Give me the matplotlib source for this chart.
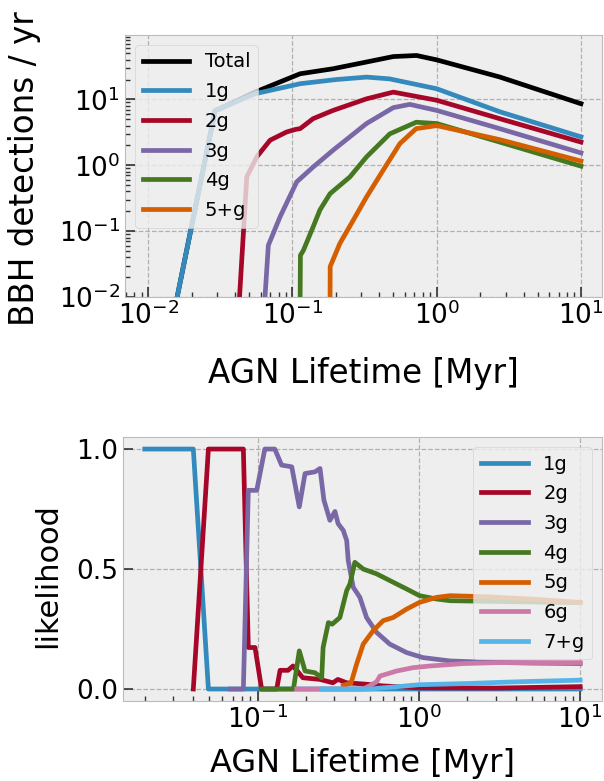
import numpy as np
import matplotlib
matplotlib.use("Agg")
import matplotlib.pyplot as plt

plt.style.use("bmh")
plt.rcParams["mathtext.fontset"] = "dejavusans"
plt.rcParams["grid.linewidth"] = 0.9
plt.rcParams["grid.color"] = "#b0b0b0"

# --- top panel: detections per year vs AGN lifetime ---
tot_x = [0.0150, 0.0291, 0.0313, 0.055, 0.113, 0.191, 0.325, 0.5, 0.724, 1.0, 2.73, 10.0]
tot_y = [0.0055, 6.8, 7.2, 12.9, 24.5, 29.2, 36.9, 44.7, 46.4, 39.8, 21.9, 8.6]

g1_x = [0.0150, 0.0291, 0.0313, 0.055, 0.113, 0.2, 0.326, 0.47, 1.0, 2.73, 10.0]
g1_y = [0.0055, 6.8, 7.2, 12.2, 17.3, 20.0, 21.8, 20.5, 14.5, 6.5, 2.7]

g2_x = [0.0425, 0.0482, 0.0565, 0.0699, 0.091, 0.105, 0.113, 0.139, 0.191, 0.326, 0.5, 1.0, 2.73, 10.0]
g2_y = [0.007, 0.665, 1.34, 2.4, 3.2, 3.5, 3.6, 5.1, 6.8, 10.2, 12.9, 9.7, 5.1, 2.25]

g3_x = [0.0638, 0.068, 0.082, 0.107, 0.139, 0.191, 0.326, 0.5, 0.65, 1.0, 2.73, 10.0]
g3_y = [0.007, 0.061, 0.165, 0.56, 0.94, 1.69, 4.3, 7.5, 8.4, 6.8, 3.6, 1.54]

g4_x = [0.1127, 0.1135, 0.119, 0.139, 0.155, 0.182, 0.25, 0.326, 0.473, 0.72, 1.0, 2.73, 10.0]
g4_y = [0.005, 0.043, 0.051, 0.116, 0.21, 0.37, 0.665, 1.34, 3.0, 4.5, 4.3, 2.25, 0.97]

g5_x = [0.182, 0.1825, 0.213, 0.264, 0.326, 0.425, 0.555, 0.72, 1.0, 2.73, 10.0]
g5_y = [0.005, 0.029, 0.065, 0.147, 0.33, 0.84, 2.13, 3.6, 4.0, 2.45, 1.16]

# --- bottom panel: likelihood of each generation ---
l1_x = [0.02, 0.040, 0.0496, 10.0]
l1_y = [1.0, 1.0, 0.0, 0.0]

l2_x = [0.040, 0.0496, 0.0817, 0.0877, 0.0965, 0.106, 0.1315, 0.138, 0.1545, 0.166, 0.175,
        0.191, 0.244, 0.293, 0.315, 0.357, 0.474, 0.6, 1.0, 3.0, 10.0]
l2_y = [0.0, 1.0, 1.0, 0.173, 0.173, 0.0, 0.0, 0.078, 0.078, 0.096, 0.078,
        0.047, 0.04, 0.026, 0.04, 0.026, 0.02, 0.013, 0.005, 0.004, 0.01]

l3_x = [0.068, 0.0817, 0.0877, 0.0989, 0.111, 0.128, 0.141, 0.163, 0.1815, 0.197, 0.227,
        0.244, 0.258, 0.281, 0.302, 0.316, 0.34, 0.357, 0.365, 0.392, 0.431, 0.474,
        0.547, 0.661, 0.839, 1.06, 1.56, 2.5, 5.0, 10.0]
l3_y = [0.0, 0.0, 0.828, 0.828, 1.0, 1.0, 0.933, 0.926, 0.759, 0.898, 0.905,
        0.919, 0.787, 0.703, 0.74, 0.689, 0.661, 0.619, 0.536, 0.424, 0.382, 0.298,
        0.236, 0.187, 0.152, 0.131, 0.117, 0.112, 0.108, 0.106]

l4_x = [0.106, 0.167, 0.1815, 0.197, 0.227, 0.25, 0.255, 0.275, 0.29, 0.324, 0.357, 0.374,
        0.401, 0.452, 0.547, 0.661, 0.839, 1.01, 1.29, 1.56, 3.0, 10.0]
l4_y = [0.0, 0.0, 0.159, 0.075, 0.068, 0.047, 0.173, 0.277, 0.27, 0.298, 0.41, 0.438,
        0.528, 0.5, 0.48, 0.452, 0.417, 0.389, 0.375, 0.368, 0.365, 0.36]

l5_x = [0.34, 0.38, 0.411, 0.452, 0.521, 0.601, 0.693, 0.839, 1.01, 1.29, 1.56, 2.5, 5.0, 10.0]
l5_y = [0.015, 0.025, 0.103, 0.187, 0.243, 0.285, 0.298, 0.333, 0.361, 0.382, 0.389, 0.385, 0.375, 0.361]

l6_x = [0.175, 0.45, 0.5, 0.547, 0.574, 0.727, 0.922, 1.17, 1.88, 3.03, 10.0]
l6_y = [0.0, 0.0, 0.015, 0.03, 0.054, 0.075, 0.089, 0.096, 0.106, 0.11, 0.11]

l7_x = [0.25, 0.5, 0.6, 0.8, 1.0, 2.0, 4.0, 10.0]
l7_y = [0.0, 0.0, 0.005, 0.012, 0.018, 0.023, 0.03, 0.037]

lw = 3.4
fs_tick = 19
leg_kw = dict(fontsize=14, handlelength=2.4, labelspacing=0.55)

fig = plt.figure(figsize=(6.04, 7.81), dpi=100)

ax1 = fig.add_axes([0.207, 0.6197, 0.789, 0.3355])
ax1.plot(tot_x, tot_y, color="k", lw=lw, label="Total")
ax1.plot(g1_x, g1_y, lw=lw, label="1g")
ax1.plot(g2_x, g2_y, lw=lw, label="2g")
ax1.plot(g3_x, g3_y, lw=lw, label="3g")
ax1.plot(g4_x, g4_y, lw=lw, label="4g")
ax1.plot(g5_x, g5_y, lw=lw, label="5+g")
ax1.set_xscale("log")
ax1.set_yscale("log")
ax1.set_xlim(0.0069, 13.9)
ax1.set_ylim(1e-2, 95)
ax1.set_xlabel("AGN Lifetime [Myr]", fontsize=23.5)
ax1.set_ylabel("BBH detections / yr", fontsize=23.5)
ax1.xaxis.set_label_coords(0.5, -0.23)
ax1.yaxis.set_label_coords(-0.176, 0.489)
ax1.legend(loc="upper left", **leg_kw)

ax2 = fig.add_axes([0.2036, 0.1024, 0.793, 0.338])
for xs, ys, lab in [(l1_x, l1_y, "1g"), (l2_x, l2_y, "2g"), (l3_x, l3_y, "3g"),
                    (l4_x, l4_y, "4g"), (l5_x, l5_y, "5g"), (l6_x, l6_y, "6g"),
                    (l7_x, l7_y, "7+g")]:
    ax2.plot(xs, ys, lw=lw, label=lab)
ax2.set_xscale("log")
ax2.set_xlim(10**-1.834, 10**1.135)
ax2.set_ylim(-0.05, 1.05)
ax2.set_yticks([0.0, 0.5, 1.0])
ax2.set_xlabel("AGN Lifetime [Myr]", fontsize=23)
ax2.set_ylabel("likelihood", fontsize=22)
ax2.xaxis.set_label_coords(0.5, -0.178)
ax2.yaxis.set_label_coords(-0.127, 0.477)
ax2.legend(loc="upper right", **leg_kw)

for ax in (ax1, ax2):
    ax.tick_params(which="major", labelsize=fs_tick, length=7, width=1.2, color="#333333")
    ax.tick_params(which="minor", length=3.5, width=1.0, color="#333333")

fig.savefig("out.png", dpi=100)
